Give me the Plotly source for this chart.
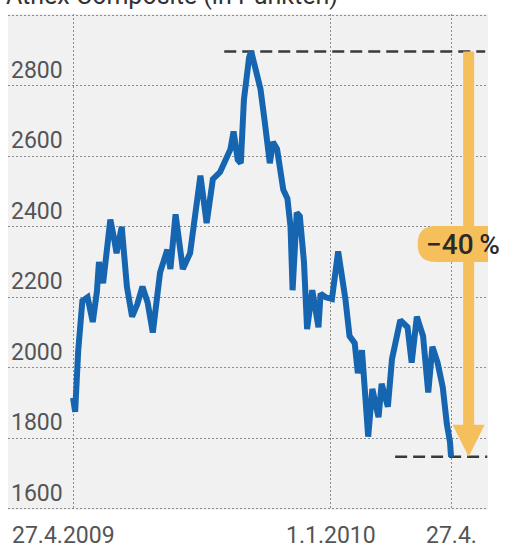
import plotly.graph_objects as go

# ---------------- data ----------------
dates = [
    "2009-04-27", "2009-04-29", "2009-05-02", "2009-05-06", "2009-05-11", "2009-05-16",
    "2009-05-20", "2009-05-22", "2009-05-26", "2009-06-02", "2009-06-06", "2009-06-08",
    "2009-06-13", "2009-06-18", "2009-06-23", "2009-06-28", "2009-07-03", "2009-07-08",
    "2009-07-13", "2009-07-20", "2009-07-27", "2009-07-30", "2009-08-04", "2009-08-11",
    "2009-08-18", "2009-08-25", "2009-08-28", "2009-09-03", "2009-09-09", "2009-09-16",
    "2009-09-23", "2009-09-26", "2009-09-29", "2009-10-03", "2009-10-06", "2009-10-09",
    "2009-10-14", "2009-10-16", "2009-10-20", "2009-10-25", "2009-10-29", "2009-11-03",
    "2009-11-06", "2009-11-10", "2009-11-16", "2009-11-20", "2009-11-23", "2009-11-25",
    "2009-11-29", "2009-12-02", "2009-12-06", "2009-12-09", "2009-12-14", "2009-12-20",
    "2009-12-22", "2009-12-27", "2010-01-02", "2010-01-08", "2010-01-15", "2010-01-19",
    "2010-01-24", "2010-01-27", "2010-01-31", "2010-02-06", "2010-02-10", "2010-02-16",
    "2010-02-19", "2010-02-25", "2010-03-01", "2010-03-09", "2010-03-16", "2010-03-20",
    "2010-03-25", "2010-03-31", "2010-04-05", "2010-04-09", "2010-04-14", "2010-04-19",
    "2010-04-23", "2010-04-26", "2010-04-27",
]
values = [
    1915, 1875, 2050, 2190, 2200, 2130,
    2215, 2300, 2240, 2420, 2360, 2325,
    2400, 2230, 2145, 2180, 2230, 2185,
    2100, 2270, 2335, 2280, 2435, 2280,
    2325, 2495, 2545, 2410, 2535, 2555,
    2600, 2620, 2670, 2590, 2580, 2760,
    2880, 2897, 2850, 2790, 2700, 2580,
    2640, 2620, 2505, 2480, 2400, 2220,
    2440, 2430, 2300, 2110, 2220, 2115,
    2210, 2200, 2195, 2330, 2195, 2090,
    2070, 1985, 2050, 1805, 1940, 1860,
    1955, 1890, 2025, 2135, 2115, 2015,
    2145, 2090, 1930, 2060, 2015, 1945,
    1840, 1790, 1748,
]

title_text = "Athex Composite (in Punkten)"
y_tick_values = [1600, 1800, 2000, 2200, 2400, 2600, 2800]
y_tick_labels = ["1600", "1800", "2000", "2200", "2400", "2600", "2800"]
x_tick_dates = ["2009-04-27", "2010-01-01", "2010-04-27"]
x_tick_labels = ["27.4.2009", "1.1.2010", "27.4."]
change_label = "\u221240\u2009%"

# ---------------- layout constants ----------------
W, H = 508, 548
M_L, M_R, M_T, M_B = 8, 20, 14, 38
Y_RANGE = [1597, 3003]
X_RANGE = ["2009-02-23 04:00", "2010-06-01 17:00"]
px_per_unit = (H - M_T - M_B) / (Y_RANGE[1] - Y_RANGE[0])

BLUE = "#1565b0"
ORANGE = "#f5bf5c"
GRID = "#8c8c8c"
LABEL = "#555555"
FONT = "Roboto"

vmax = max(values)
vmin = min(values)
arrow_x = "2010-05-14"

fig = go.Figure()
fig.add_trace(go.Scatter(
    x=dates, y=values, mode="lines",
    line=dict(color=BLUE, width=6),
    hoverinfo="skip", showlegend=False,
))

shapes = []
# dashed max / min lines
shapes.append(dict(type="line", xref="x", yref="y", x0="2009-09-20", x1="2010-05-30",
                   y0=vmax, y1=vmax, line=dict(color="#3a3a3a", width=2.5, dash="12px,6px"),
                   layer="between"))
shapes.append(dict(type="line", xref="x", yref="y", x0="2010-03-04", x1="2010-06-01",
                   y0=vmin, y1=vmin, line=dict(color="#3a3a3a", width=2.5, dash="12px,6px"),
                   layer="between"))
# arrow shaft
head_len = 32
shapes.append(dict(type="line", xref="x", yref="y", x0=arrow_x, x1=arrow_x,
                   y0=vmax, y1=vmin + (head_len - 4) / px_per_unit,
                   line=dict(color=ORANGE, width=11), layer="between"))
# arrow head
shapes.append(dict(type="path", xref="x", yref="y", xsizemode="pixel", ysizemode="pixel",
                   xanchor=arrow_x, yanchor=vmin,
                   path=f"M -16,{head_len} L 16,{head_len} L 0,0 Z",
                   fillcolor=ORANGE, line=dict(width=0), layer="between"))
# label pill
ymid = (vmax + vmin) / 2
shapes.append(dict(type="path", xref="x", yref="y", xsizemode="pixel", ysizemode="pixel",
                   xanchor=arrow_x, yanchor=ymid,
                   path="M -33,-8 L 19,-8 Q 37,-8 37,10 Q 37,28 19,28 L -33,28 Q -51,28 -51,10 Q -51,-8 -33,-8 Z",
                   fillcolor=ORANGE, line=dict(width=0), layer="above"))

annotations = []
annotations.append(dict(text=change_label, x=arrow_x, y=ymid, xref="x", yref="y",
                        xshift=-6, yshift=10, showarrow=False,
                        font=dict(family=FONT, size=28, color="#2a2a2a", weight=500)))
for i, (d, t) in enumerate(zip(x_tick_dates, x_tick_labels)):
    annotations.append(dict(text=t, x=d, y=0, xref="x", yref="paper",
                            xanchor="center", yanchor="top", yshift=-10,
                            xshift=-10 if i == 0 else 0, showarrow=False,
                            font=dict(family=FONT, size=23, color=LABEL)))
annotations.append(dict(text=title_text, x=0, y=1, xref="paper", yref="paper",
                        xanchor="left", yanchor="bottom", xshift=-4, yshift=2,
                        showarrow=False, font=dict(family=FONT, size=25, color="#333333")))

fig.update_layout(
    width=W, height=H,
    margin=dict(l=M_L, r=M_R, t=M_T, b=M_B, pad=0),
    paper_bgcolor="white", plot_bgcolor="#f1f1f1",
    showlegend=False,
    shapes=shapes, annotations=annotations,
    xaxis=dict(type="date", range=X_RANGE, tickvals=x_tick_dates, showticklabels=False,
               showgrid=True, gridcolor=GRID, gridwidth=1.3, griddash="2px,2px",
               zeroline=False, showline=False, ticks="", fixedrange=True),
    yaxis=dict(range=Y_RANGE, tickvals=y_tick_values, ticktext=y_tick_labels,
               ticklabelposition="inside top", ticks="", ticklabelstandoff=0,
               tickfont=dict(family=FONT, size=23, color=LABEL),
               showgrid=True, gridcolor=GRID, gridwidth=1.3, griddash="2px,2px",
               minor=dict(dtick=200, tick0=1600, showgrid=True, gridcolor=GRID,
                          gridwidth=1.3, griddash="2px,2px"),
               zeroline=False, showline=False, fixedrange=True),
)

fig.write_html("out.html", config={"displayModeBar": False},
               post_script="document.body.style.margin='0';document.body.style.overflow='hidden';")
